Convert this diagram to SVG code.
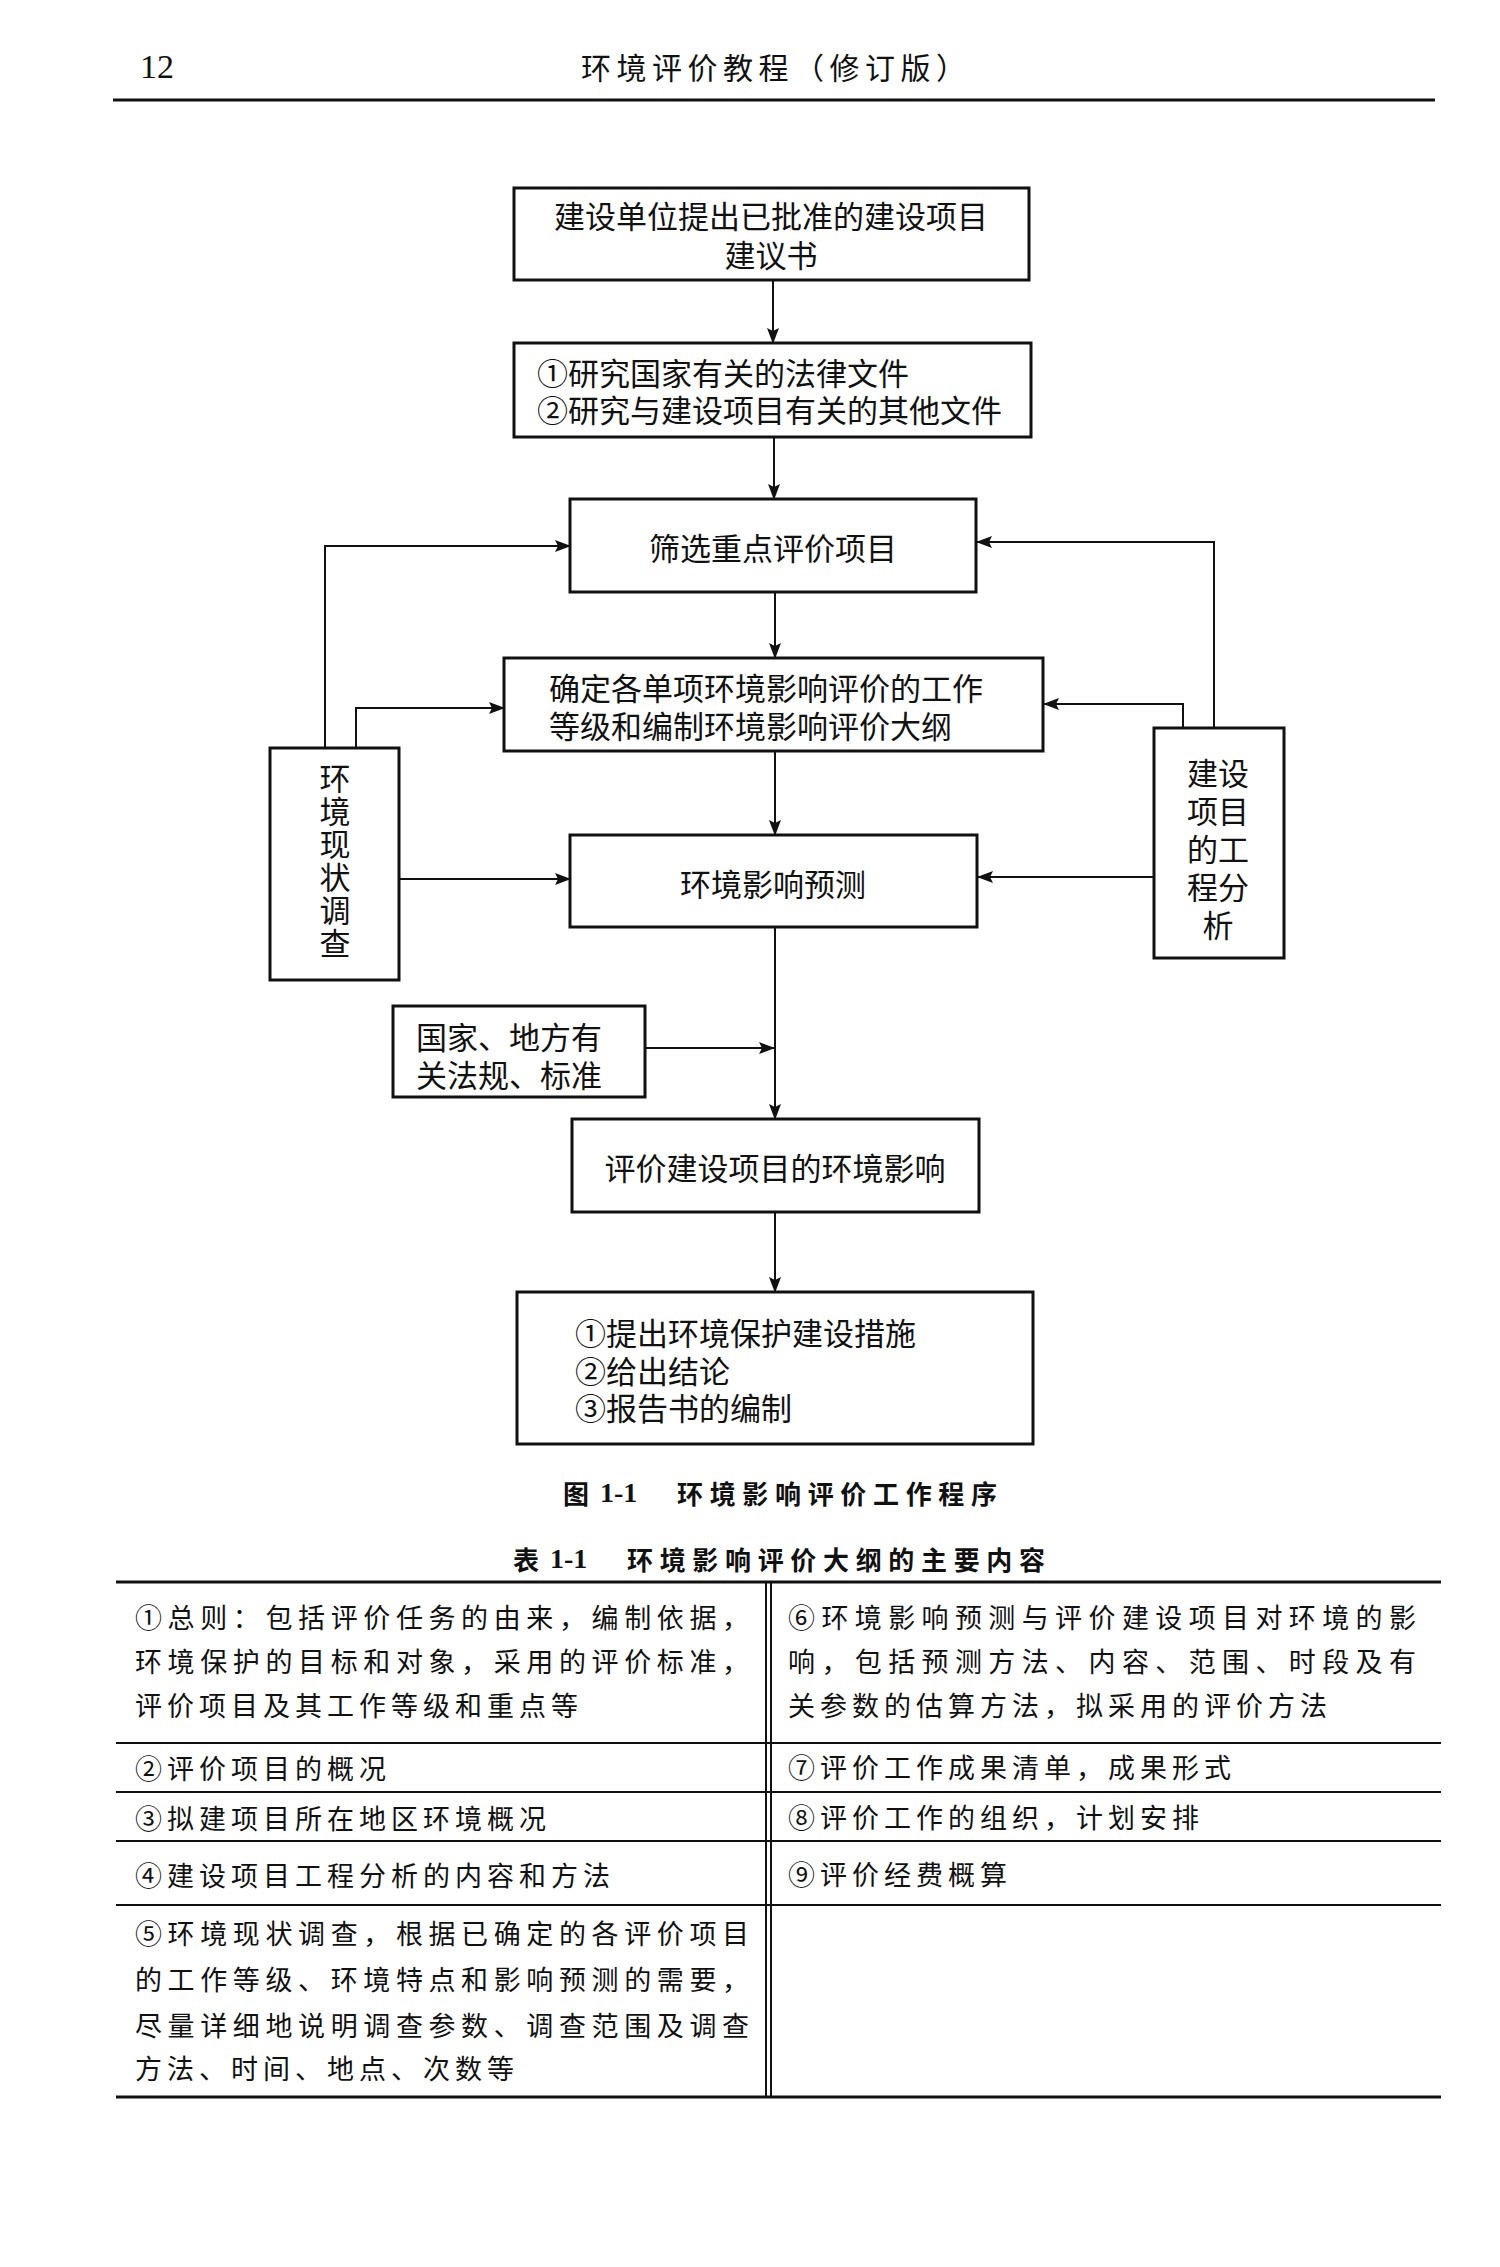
<svg xmlns="http://www.w3.org/2000/svg" width="1500" height="2267" viewBox="0 0 1500 2267">
<defs>
<marker id="arr" markerUnits="userSpaceOnUse" markerWidth="16" markerHeight="12" refX="15" refY="6" orient="auto">
<path d="M0,0 L16,6 L0,12 L3,6 z" fill="#111"/>
</marker>
<style>
.box{fill:#fff;stroke:#111;stroke-width:3}
.t{font-family:"Noto Sans CJK SC","Noto Sans",sans-serif;font-size:31px;fill:#111;dominant-baseline:central}
.c{text-anchor:middle}
.v{writing-mode:vertical-rl;letter-spacing:2px}
.conn path{fill:none;stroke:#111;stroke-width:2}
.tb{font-family:"Noto Sans CJK SC","Noto Sans",sans-serif;font-size:27px;fill:#111;dominant-baseline:central;letter-spacing:5px}
.cap{font-family:"Noto Sans CJK SC","Liberation Sans",sans-serif;font-size:26px;font-weight:bold;fill:#111;dominant-baseline:central}
.rule{stroke:#111;fill:none}
</style>
</defs>
<rect width="1500" height="2267" fill="#fff"/>

<g id="header">
<text x="140" y="66" style="font-family:'Liberation Serif',serif;font-size:34px;fill:#111;dominant-baseline:central">12</text>
<text x="581" y="66" textLength="385" lengthAdjust="spacing" style="font-family:'Noto Sans CJK SC',sans-serif;font-size:30px;fill:#111;dominant-baseline:central">环境评价教程（修订版）</text>
<line class="rule" x1="113" y1="100" x2="1435" y2="100" stroke-width="3"/>
</g>

<g id="connectors" class="conn">
<path d="M773,280 V343" marker-end="url(#arr)"/>
<path d="M774,437 V499" marker-end="url(#arr)"/>
<path d="M775,592 V658" marker-end="url(#arr)"/>
<path d="M775,751 V835" marker-end="url(#arr)"/>
<path d="M325,748 V546 H570" marker-end="url(#arr)"/>
<path d="M356,748 V708 H504" marker-end="url(#arr)"/>
<path d="M399,879 H570" marker-end="url(#arr)"/>
<path d="M1214,728 V542 H977" marker-end="url(#arr)"/>
<path d="M1183,728 V704 H1044" marker-end="url(#arr)"/>
<path d="M1154,877 H978" marker-end="url(#arr)"/>
<path d="M775,927 V1119" marker-end="url(#arr)"/>
<path d="M645,1048 H774" marker-end="url(#arr)"/>
<path d="M775,1212 V1292" marker-end="url(#arr)"/>
</g>

<g id="n1">
<rect class="box" x="514" y="188" width="515" height="92"/>
<text class="t c"><tspan x="771" y="214">建设单位提出已批准的建设项目</tspan><tspan x="771" y="253">建议书</tspan></text>
</g>
<g id="n2">
<rect class="box" x="514" y="343" width="517" height="94"/>
<text class="t"><tspan x="537" y="371">①研究国家有关的法律文件</tspan><tspan x="537" y="408">②研究与建设项目有关的其他文件</tspan></text>
</g>
<g id="n3">
<rect class="box" x="570" y="499" width="406" height="93"/>
<text class="t c" x="773" y="546">筛选重点评价项目</text>
</g>
<g id="n4">
<rect class="box" x="504" y="658" width="539" height="93"/>
<text class="t"><tspan x="549" y="686">确定各单项环境影响评价的工作</tspan><tspan x="549" y="724">等级和编制环境影响评价大纲</tspan></text>
</g>
<g id="n5">
<rect class="box" x="570" y="835" width="407" height="92"/>
<text class="t c" x="773" y="882">环境影响预测</text>
</g>
<g id="n-left">
<rect class="box" x="270" y="748" width="129" height="232"/>
<text class="t v" x="335" y="763">环境现状调查</text>
</g>
<g id="n-right">
<rect class="box" x="1154" y="728" width="130" height="230"/>
<text class="t c"><tspan x="1218" y="771">建设</tspan><tspan x="1218" y="809">项目</tspan><tspan x="1218" y="847">的工</tspan><tspan x="1218" y="885">程分</tspan><tspan x="1218" y="923">析</tspan></text>
</g>
<g id="n6">
<rect class="box" x="393" y="1006" width="252" height="91"/>
<text class="t"><tspan x="416" y="1035">国家、地方有</tspan><tspan x="416" y="1073">关法规、标准</tspan></text>
</g>
<g id="n7">
<rect class="box" x="572" y="1119" width="407" height="93"/>
<text class="t c" x="775" y="1166">评价建设项目的环境影响</text>
</g>
<g id="n8">
<rect class="box" x="517" y="1292" width="516" height="152"/>
<text class="t"><tspan x="575" y="1331">①提出环境保护建设措施</tspan><tspan x="575" y="1369">②给出结论</tspan><tspan x="575" y="1406">③报告书的编制</tspan></text>
</g>

<g id="captions">
<text class="cap" x="563" y="1492">图</text>
<text class="cap" x="600" y="1492" style="font-family:'Liberation Serif',serif;font-size:28px">1-1</text>
<text class="cap" x="677" y="1492" textLength="320" lengthAdjust="spacing">环境影响评价工作程序</text>
<text class="cap" x="513" y="1558">表</text>
<text class="cap" x="550" y="1558" style="font-family:'Liberation Serif',serif;font-size:28px">1-1</text>
<text class="cap" x="627" y="1558" textLength="418" lengthAdjust="spacing">环境影响评价大纲的主要内容</text>
</g>

<g id="table">
<line class="rule" x1="116" y1="1582" x2="1441" y2="1582" stroke-width="3"/>
<line class="rule" x1="116" y1="2097" x2="1441" y2="2097" stroke-width="3"/>
<line class="rule" x1="116" y1="1743" x2="1441" y2="1743" stroke-width="2"/>
<line class="rule" x1="116" y1="1792" x2="1441" y2="1792" stroke-width="2"/>
<line class="rule" x1="116" y1="1841" x2="1441" y2="1841" stroke-width="2"/>
<line class="rule" x1="116" y1="1905" x2="1441" y2="1905" stroke-width="2"/>
<line class="rule" x1="766" y1="1582" x2="766" y2="2097" stroke-width="2"/>
<line class="rule" x1="771" y1="1582" x2="771" y2="2097" stroke-width="2"/>

<text class="tb" x="135" y="1616" textLength="619" lengthAdjust="spacing">①总则：包括评价任务的由来，编制依据，</text>
<text class="tb" x="135" y="1660" textLength="619" lengthAdjust="spacing">环境保护的目标和对象，采用的评价标准，</text>
<text class="tb" x="135" y="1704">评价项目及其工作等级和重点等</text>
<text class="tb" x="135" y="1767">②评价项目的概况</text>
<text class="tb" x="135" y="1817">③拟建项目所在地区环境概况</text>
<text class="tb" x="135" y="1874">④建设项目工程分析的内容和方法</text>
<text class="tb" x="135" y="1932" textLength="619" lengthAdjust="spacing">⑤环境现状调查，根据已确定的各评价项目</text>
<text class="tb" x="135" y="1978" textLength="619" lengthAdjust="spacing">的工作等级、环境特点和影响预测的需要，</text>
<text class="tb" x="135" y="2024" textLength="619" lengthAdjust="spacing">尽量详细地说明调查参数、调查范围及调查</text>
<text class="tb" x="135" y="2067">方法、时间、地点、次数等</text>

<text class="tb" x="788" y="1616" textLength="633" lengthAdjust="spacing">⑥环境影响预测与评价建设项目对环境的影</text>
<text class="tb" x="788" y="1660" textLength="633" lengthAdjust="spacing">响，包括预测方法、内容、范围、时段及有</text>
<text class="tb" x="788" y="1704">关参数的估算方法，拟采用的评价方法</text>
<text class="tb" x="788" y="1766">⑦评价工作成果清单，成果形式</text>
<text class="tb" x="788" y="1816">⑧评价工作的组织，计划安排</text>
<text class="tb" x="788" y="1873">⑨评价经费概算</text>
</g>
</svg>
